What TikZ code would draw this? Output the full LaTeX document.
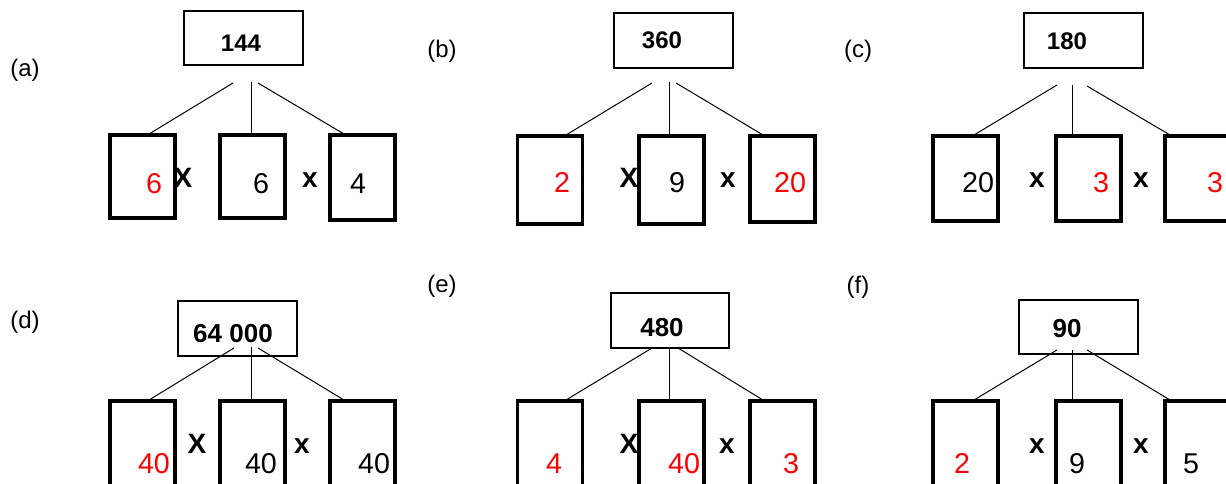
\documentclass[tikz,border=0pt]{standalone}
\usepackage{fontspec}
\setmainfont{Liberation Sans}
\usetikzlibrary{calc}
\begin{document}
\begin{tikzpicture}[x=0.75pt,y=-0.75pt,
 topbox/.style 2 args={draw, line width=1.5pt, minimum width=#1*0.75pt, minimum height=#2*0.75pt, inner sep=0pt},
 kid/.style={draw, line width=2.4pt, minimum width=65*0.75pt, minimum height=#1*0.75pt, inner sep=0pt},
 lbl/.style={anchor=base, font=\fontsize{18}{21}\selectfont, inner sep=0pt},
 topnum/.style={anchor=base, font=\fontsize{18}{21}\selectfont\bfseries, inner sep=0pt},
 topnumb/.style={anchor=base, font=\fontsize{19.5}{22}\selectfont\bfseries, inner sep=0pt},
 num/.style={anchor=base, font=\fontsize{21.5}{24}\selectfont, inner sep=0pt},
 rnum/.style={num, text=red},
 op/.style={anchor=base, font=\fontsize{21}{24}\selectfont\bfseries, inner sep=0pt},
 conn/.style={line width=0.75pt}]
\useasboundingbox (0,0) rectangle (1226,484);
\clip (0,0) rectangle (1226,484);

% ---------- (a)
\node[lbl] (la) at (25,77) {(a)};
\node[topbox={119}{54}] (ta) at (243.5,38) {};
\node[topnum] (na) at (241,52) {144};
\node[kid=83] (ka1) at (142.5,176.5) {};
\node[kid=83] (ka2) at (252.5,176.5) {};
\node[kid=85] (ka3) at (362.5,177.5) {};
\node[rnum] (xa1) at (154,194) {6};
\node[op] (oa1) at (183,188) {X};
\node[num] (xa2) at (261,194) {6};
\node[op] (oa2) at (310,188) {x};
\node[num] (xa3) at (358,194) {4};
\coordinate (sa1) at (233,83);
\coordinate (sa2) at (251,82);
\coordinate (sa3) at (258,83);
\draw[conn] (sa1) -- ($(ka1.north)+(7.5,0)$);
\draw[conn] (sa2) -- ($(ka2.north)+(-1.5,0)$);
\draw[conn] (sa3) -- ($(ka3.north)+(-19.5,0)$);

% ---------- (b)
\node[lbl] (lb) at (442,58) {(b)};
\node[topbox={119}{55}] (tb) at (673.5,40.5) {};
\node[topnum] (nb) at (662,49) {360};
\node[kid=88] (kb1) at (550,180) {};
\node[kid=88] (kb2) at (671.5,180) {};
\node[kid=86] (kb3) at (782.5,179) {};
\node[rnum] (xb1) at (562,193) {2};
\node[op] (ob1) at (629,188) {X};
\node[num] (xb2) at (677,193) {9};
\node[op] (ob2) at (728,188) {x};
\node[rnum] (xb3) at (790,193) {20};
\coordinate (sb1) at (652,83);
\coordinate (sb2) at (669,82);
\coordinate (sb3) at (676,83);
\draw[conn] (sb1) -- ($(kb1.north)+(17,0)$);
\draw[conn] (sb2) -- ($(kb2.north)+(-2.5,0)$);
\draw[conn] (sb3) -- ($(kb3.north)+(-20.5,0)$);

% ---------- (c)
\node[lbl] (lc) at (858,58) {(c)};
\node[topbox={119}{55}] (tc) at (1083.5,40.5) {};
\node[topnum] (nc) at (1067,50) {180};
\node[kid=85] (kc1) at (965.5,178.5) {};
\node[kid=85] (kc2) at (1088.5,178.5) {};
\node[kid=85] (kc3) at (1197.5,178.5) {};
\node[num] (xc1) at (978,193) {20};
\node[op] (oc1) at (1037,188) {x};
\node[rnum] (xc2) at (1101,193) {3};
\node[op] (oc2) at (1141,188) {x};
\node[rnum] (xc3) at (1215,193) {3};
\coordinate (sc1) at (1057,85);
\coordinate (sc2) at (1072,85);
\coordinate (sc3) at (1087,86);
\draw[conn] (sc1) -- ($(kc1.north)+(9.5,0)$);
\draw[conn] (sc2) -- ($(kc2.north)+(-16.5,0)$);
\draw[conn] (sc3) -- ($(kc3.north)+(-28.5,0)$);

% ---------- (d)
\node[lbl] (ld) at (25,328) {(d)};
\node[topbox={119}{55}] (td) at (237.5,328.5) {};
\node[topnumb] (nd) at (233,342) {64 000};
\node[kid=109] (kd1) at (142.5,455.5) {};
\node[kid=109] (kd2) at (252.5,455.5) {};
\node[kid=109] (kd3) at (362.5,455.5) {};
\node[rnum] (xd1) at (154,473) {40};
\node[op] (od1) at (197,453) {X};
\node[num] (xd2) at (261,473) {40};
\node[op] (od2) at (302,453) {x};
\node[num] (xd3) at (374,473) {40};
\coordinate (sd1) at (234,348);
\coordinate (sd2) at (251,347);
\coordinate (sd3) at (258,348);
\draw[conn] (sd1) -- ($(kd1.north)+(7.5,0)$);
\draw[conn] (sd2) -- ($(kd2.north)+(-1.5,0)$);
\draw[conn] (sd3) -- ($(kd3.north)+(-19.5,0)$);

% ---------- (e)
\node[lbl] (le) at (442,292) {(e)};
\node[topbox={118}{55}] (te) at (670,320.5) {};
\node[topnumb] (ne) at (662,336) {480};
\node[kid=109] (ke1) at (550,455.5) {};
\node[kid=109] (ke2) at (671.5,455.5) {};
\node[kid=109] (ke3) at (782.5,455.5) {};
\node[rnum] (xe1) at (554,473) {4};
\node[op] (oe1) at (629,453) {X};
\node[rnum] (xe2) at (684,473) {40};
\node[op] (oe2) at (727,453) {x};
\node[rnum] (xe3) at (791,473) {3};
\coordinate (se1) at (652,348);
\coordinate (se2) at (669,348);
\coordinate (se3) at (678,348);
\draw[conn] (se1) -- ($(ke1.north)+(17,0)$);
\draw[conn] (se2) -- ($(ke2.north)+(-2.5,0)$);
\draw[conn] (se3) -- ($(ke3.north)+(-20.5,0)$);

% ---------- (f)
\node[lbl] (lf) at (858,293) {(f)};
\node[topbox={119}{54}] (tf) at (1078.5,327) {};
\node[topnumb] (nf) at (1067,337) {90};
\node[kid=109] (kf1) at (965.5,455.5) {};
\node[kid=109] (kf2) at (1088.5,455.5) {};
\node[kid=109] (kf3) at (1197.5,455.5) {};
\node[rnum] (xf1) at (962,473) {2};
\node[op] (of1) at (1037,453) {x};
\node[num] (xf2) at (1077,473) {9};
\node[op] (of2) at (1141,453) {x};
\node[num] (xf3) at (1191,473) {5};
\coordinate (sf1) at (1057,350);
\coordinate (sf2) at (1072,350);
\coordinate (sf3) at (1087,350);
\draw[conn] (sf1) -- ($(kf1.north)+(9.5,0)$);
\draw[conn] (sf2) -- ($(kf2.north)+(-16.5,0)$);
\draw[conn] (sf3) -- ($(kf3.north)+(-28.5,0)$);
\end{tikzpicture}
\end{document}
